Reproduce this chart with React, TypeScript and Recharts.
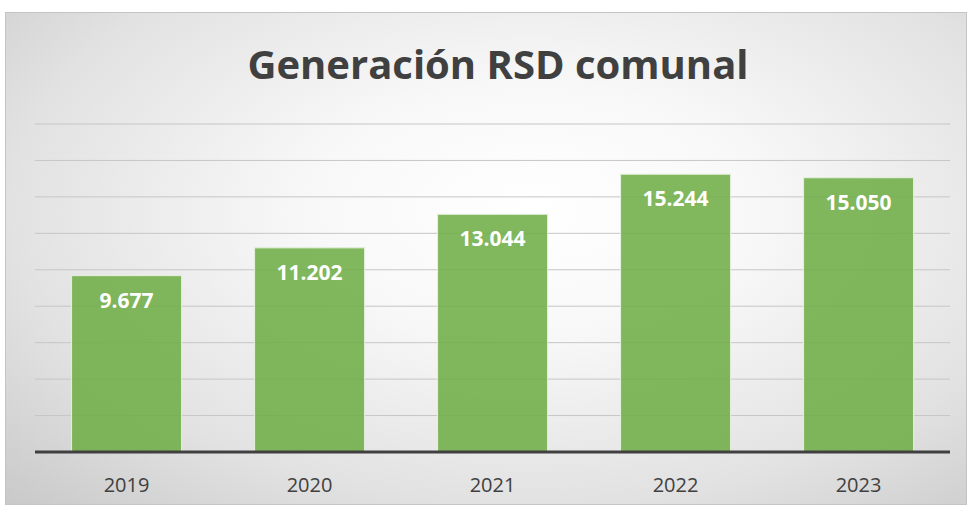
import React from 'react';
import { BarChart, Bar, XAxis, YAxis, CartesianGrid, LabelList } from 'recharts';

const years = ['2019', '2020', '2021', '2022', '2023'];
const rsdValues = [9677, 11202, 13044, 15244, 15050];
const yTicks = [0, 2000, 4000, 6000, 8000, 10000, 12000, 14000, 16000, 18000];

const data = years.map((year, i) => ({ year, rsd: rsdValues[i] }));

const formatThousands = (v: number) => String(v).replace(/\B(?=(\d{3})+(?!\d))/g, '.');

export default function App() {
  return (
    <div
      style={{
        position: 'absolute',
        left: 5,
        top: 12,
        width: 962,
        height: 493,
        border: '1px solid #c4c4c4',
        boxSizing: 'border-box',
        background: 'radial-gradient(ellipse at 55% 40%, #ffffff 0%, #f8f8f8 30%, #e2e2e2 70%, #c9c9c9 100%)',
        fontFamily: '"Open Sans", sans-serif',
      }}
    >
      <div
        style={{
          position: 'absolute',
          top: 23,
          left: 12,
          width: '100%',
          textAlign: 'center',
          fontSize: 40,
          fontWeight: 700,
          color: '#404040',
          lineHeight: '56px',
        }}
      >
        Generación RSD comunal
      </div>
      <BarChart
        width={960}
        height={491}
        data={data}
        margin={{ top: 111, right: 16, left: 29, bottom: 22 }}
        barCategoryGap="20%"
        style={{ position: 'absolute', left: 0, top: 0 }}
      >
        <CartesianGrid vertical={false} stroke="#c6c6c6" strokeWidth={1} />
        <YAxis hide domain={[0, 18000]} ticks={yTicks} />
        <XAxis
          dataKey="year"
          axisLine={{ stroke: '#404040', strokeWidth: 3 }}
          tickLine={false}
          tick={{ fill: '#404040', fontSize: 20 }}
          tickMargin={20}
        />
        <Bar dataKey="rsd" fill="#70ad47" fillOpacity={0.88} stroke="#e6f0de" strokeWidth={1} isAnimationActive={false}>
          <LabelList
            dataKey="rsd"
            position="insideTop"
            offset={17}
            formatter={(v: any) => formatThousands(Number(v))}
            style={{ fill: '#ffffff', fontWeight: 700, fontSize: 21 }}
          />
        </Bar>
      </BarChart>
    </div>
  );
}
